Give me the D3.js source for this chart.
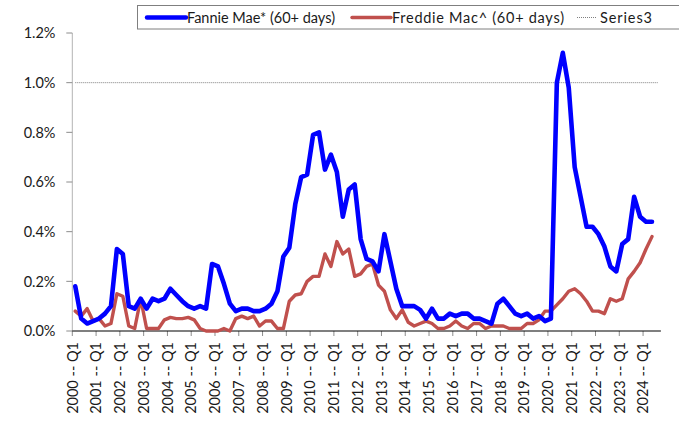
<!DOCTYPE html>
<html><head><meta charset="utf-8">
<script src="https://cdn.jsdelivr.net/npm/d3@7"></script>
<style>
html,body{margin:0;padding:0;background:#fff;}
svg{display:block;}
text{font-family:Lato,"Noto Sans",sans-serif;fill:#1a1a1a;}
</style></head>
<body>
<svg id="chart" width="679" height="423"></svg>
<script>
// ---- data ----
const years = ["2000","2001","2002","2003","2004","2005","2006","2007","2008","2009","2010","2011","2012","2013","2014","2015","2016","2017","2018","2019","2020","2021","2022","2023","2024"];
const quarters = ["Q1","Q2","Q3","Q4"];
const tickLabels = ["2000 -- Q1","2001 -- Q1","2002 -- Q1","2003 -- Q1","2004 -- Q1","2005 -- Q1","2006 -- Q1","2007 -- Q1","2008 -- Q1","2009 -- Q1","2010 -- Q1","2011 -- Q1","2012 -- Q1","2013 -- Q1","2014 -- Q1","2015 -- Q1","2016 -- Q1","2017 -- Q1","2018 -- Q1","2019 -- Q1","2020 -- Q1","2021 -- Q1","2022 -- Q1","2023 -- Q1","2024 -- Q1"];
const yTicks = [0, 0.2, 0.4, 0.6, 0.8, 1.0, 1.2];
const seriesNames = ["Fannie Mae* (60+ days)", "Freddie Mac^ (60+ days)", "Series3"];

const fannie = [0.18,0.05,0.03,0.04, 0.05,0.07,0.10,0.33, 0.31,0.10,0.09,0.13, 0.09,0.13,0.12,0.13,
 0.17,0.145,0.12,0.10, 0.09,0.10,0.09,0.27, 0.26,0.19,0.11,0.08, 0.09,0.09,0.08,0.08,
 0.09,0.11,0.16,0.30, 0.335,0.51,0.62,0.63, 0.79,0.80,0.65,0.71, 0.64,0.46,0.57,0.59,
 0.37,0.29,0.28,0.24, 0.39,0.28,0.17,0.10, 0.10,0.10,0.085,0.05, 0.09,0.05,0.05,0.07,
 0.06,0.07,0.07,0.05, 0.05,0.04,0.03,0.11, 0.13,0.10,0.07,0.06, 0.07,0.05,0.06,0.04,
 0.05,1.00,1.12,0.98, 0.66,0.54,0.42,0.42, 0.39,0.34,0.26,0.24, 0.35,0.37,0.54,0.46,
 0.44,0.44];
const freddie = [0.08,0.06,0.09,0.04, 0.05,0.02,0.03,0.15, 0.14,0.02,0.01,0.13, 0.01,0.01,0.01,0.045,
 0.055,0.05,0.05,0.055, 0.045,0.01,0.00,0.00, 0.00,0.01,0.00,0.05, 0.06,0.05,0.06,0.02,
 0.04,0.04,0.01,0.01, 0.12,0.145,0.15,0.20, 0.22,0.22,0.31,0.26, 0.36,0.31,0.33,0.22,
 0.23,0.26,0.27,0.185, 0.16,0.085,0.05,0.085, 0.035,0.02,0.03,0.04, 0.03,0.01,0.01,0.02,
 0.04,0.02,0.01,0.03, 0.03,0.01,0.02,0.02, 0.02,0.01,0.01,0.01, 0.03,0.03,0.045,0.08,
 0.08,0.105,0.13,0.16, 0.17,0.15,0.12,0.08, 0.08,0.07,0.13,0.12, 0.13,0.21,0.24,0.275,
 0.33,0.38];
const series3 = [1.0,1.0,1.0,1.0,1.0,1.0,1.0,1.0,1.0,1.0,1.0,1.0,1.0,1.0,1.0,1.0,1.0,1.0,1.0,1.0,
 1.0,1.0,1.0,1.0,1.0,1.0,1.0,1.0,1.0,1.0,1.0,1.0,1.0,1.0,1.0,1.0,1.0,1.0,1.0,1.0,
 1.0,1.0,1.0,1.0,1.0,1.0,1.0,1.0,1.0,1.0,1.0,1.0,1.0,1.0,1.0,1.0,1.0,1.0,1.0,1.0,
 1.0,1.0,1.0,1.0,1.0,1.0,1.0,1.0,1.0,1.0,1.0,1.0,1.0,1.0,1.0,1.0,1.0,1.0,1.0,1.0,
 1.0,1.0,1.0,1.0,1.0,1.0,1.0,1.0,1.0,1.0,1.0,1.0,1.0,1.0,1.0,1.0,1.0,1.0,1.0];

// categories: 2000 Q1 .. 2024 Q3
const categories = years.flatMap(yr => quarters.map(q => yr + " -- " + q)).slice(0, series3.length);

// ---- layout ----
const svg = d3.select("#chart");
const pLeft = 72.3, pRight = 660.9, pTop = 33, pBottom = 331;

const x = d3.scaleBand().domain(categories).range([pLeft, pRight]).paddingInner(0).paddingOuter(0);
const y = d3.scaleLinear().domain([0, 1.2]).range([pBottom, pTop]);
const cx = c => x(c) + x.bandwidth() / 2;

// y axis
const yAxis = svg.append("g");
yAxis.append("line").attr("x1", pLeft).attr("x2", pLeft).attr("y1", y(0)).attr("y2", y(1.2))
  .attr("stroke", "#b3b3b3").attr("stroke-width", 1);
yAxis.selectAll("line.tk").data(yTicks).join("line").attr("class","tk")
  .attr("x1", pLeft - 6).attr("x2", pLeft).attr("y1", d => y(d)).attr("y2", d => y(d))
  .attr("stroke", "#8c8c8c").attr("stroke-width", 1);
yAxis.selectAll("text").data(yTicks).join("text")
  .attr("x", 55.5).attr("y", d => y(d)).attr("dy", "0.36em").attr("text-anchor", "end")
  .attr("font-size", 14.5).text(d => d.toFixed(1) + "%");

// x axis
const tickCats = categories.filter(c => tickLabels.includes(c));
const xAxis = svg.append("g");
xAxis.selectAll("line.tk").data(tickCats).join("line").attr("class","tk")
  .attr("x1", d => x(d)).attr("x2", d => x(d)).attr("y1", pBottom).attr("y2", pBottom + 5)
  .attr("stroke", "#8c8c8c").attr("stroke-width", 1);
xAxis.append("line").attr("x1", pLeft).attr("x2", pRight).attr("y1", pBottom).attr("y2", pBottom)
  .attr("stroke", "#000").attr("stroke-width", 1.2);
xAxis.selectAll("text").data(tickCats).join("text")
  .attr("transform", d => `translate(${x(d)},${pBottom + 11}) rotate(-90)`)
  .attr("text-anchor", "end").attr("dy", "0.36em").attr("font-size", 14.5).text(d => d);

// lines
const mk = arr => d3.line().defined(d => d != null).x((d, i) => cx(categories[i])).y(d => y(d))(arr);
svg.append("path").attr("d", mk(series3)).attr("fill", "none")
  .attr("stroke", "#7f7f7f").attr("stroke-width", 1).attr("stroke-dasharray", "1,1");
svg.append("path").attr("d", mk(freddie)).attr("fill", "none")
  .attr("stroke", "#c0504d").attr("stroke-width", 3.4).attr("stroke-linejoin", "round").attr("stroke-linecap", "round");
svg.append("path").attr("d", mk(fannie)).attr("fill", "none")
  .attr("stroke", "#0000ff").attr("stroke-width", 4.6).attr("stroke-linejoin", "round").attr("stroke-linecap", "round");

// legend
const lg = svg.append("g");
lg.append("rect").attr("x", 137.5).attr("y", 5.5).attr("width", 560).attr("height", 23.5)
  .attr("fill", "#fff").attr("stroke", "#7f7f7f").attr("stroke-width", 1);
const legendItems = [
  {name: seriesNames[0], x1: 147, x2: 186, color: "#0000ff", w: 4.4, dash: null, tx: 187, tl: 148},
  {name: seriesNames[1], x1: 352, x2: 391, color: "#c0504d", w: 3.4, dash: null, tx: 392, tl: 172},
  {name: seriesNames[2], x1: 577, x2: 596, color: "#7f7f7f", w: 1, dash: "1,1", tx: 600, tl: 52}
];
const li = lg.selectAll("g").data(legendItems).join("g");
li.append("line").attr("x1", d => d.x1).attr("x2", d => d.x2).attr("y1", 17.5).attr("y2", 17.5)
  .attr("stroke", d => d.color).attr("stroke-width", d => d.w).attr("stroke-dasharray", d => d.dash)
  .attr("stroke-linecap", d => d.dash ? "butt" : "round");
li.append("text").attr("x", d => d.tx).attr("y", 17.5).attr("dy", "0.36em").attr("font-size", 14.5)
  .attr("textLength", d => d.tl).attr("lengthAdjust", "spacing").text(d => d.name);
</script>
</body></html>
